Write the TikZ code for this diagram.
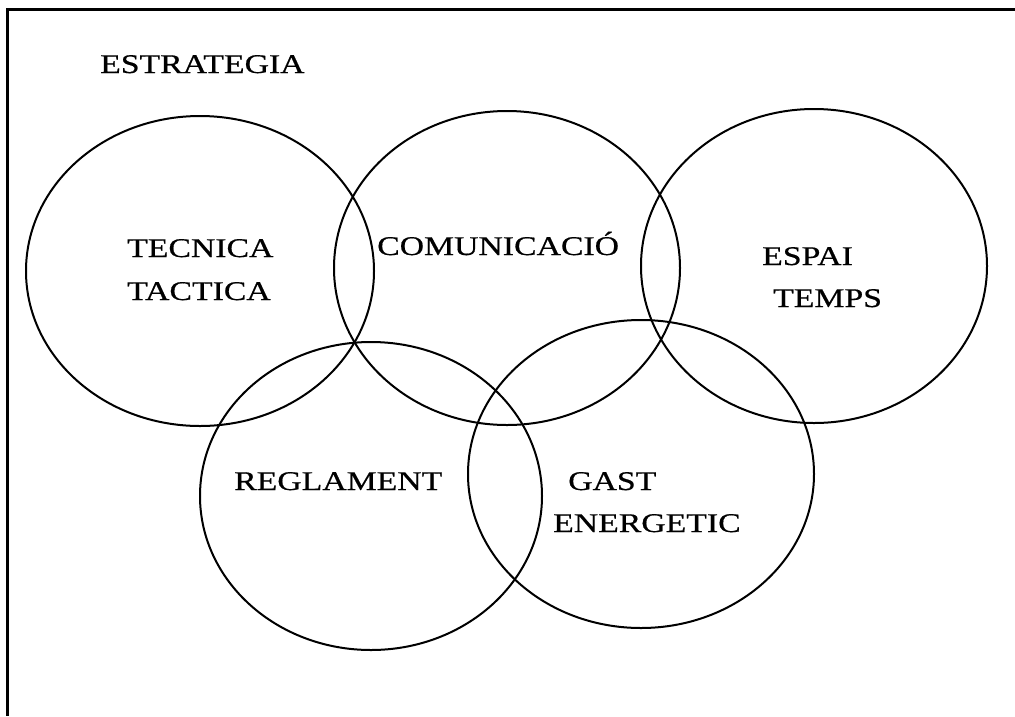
\documentclass[tikz,border=0pt]{standalone}
\usepackage{fontspec}
\setmainfont[FakeStretch=1.25,FakeBold=0.6]{Liberation Serif}
\usetikzlibrary{shapes.geometric}
\begin{document}
\begin{tikzpicture}[x=1pt,y=-1pt,
  ring/.style={draw=black,line width=2pt,ellipse,inner sep=0pt},
  frameline/.style={draw=black,line width=2.2pt},
  lbl/.style={anchor=base west,inner sep=0pt,font=\fontsize{27}{32}\selectfont}]
\useasboundingbox (0,0) rectangle (1015,716);
% frame (top and left edges only)
\coordinate (fTL) at (7.5,9.5);
\coordinate (fTR) at (1015,9.5);
\coordinate (fBL) at (7.5,716);
\draw[frameline] (fTR) -- (fTL) -- (fBL);
% rings
\node[ring,minimum width=348pt,minimum height=310pt] (e1) at (200,271) {};
\node[ring,minimum width=346pt,minimum height=314pt] (e2) at (507,268) {};
\node[ring,minimum width=346pt,minimum height=314pt] (e3) at (814,266) {};
\node[ring,minimum width=342pt,minimum height=308pt] (e4) at (371,496) {};
\node[ring,minimum width=346pt,minimum height=308pt] (e5) at (641,474) {};
% labels
\node[lbl] (t0) at (100,73) {ESTRATEGIA};
\node[lbl] (t1) at (127,257) {TECNICA};
\node[lbl] (t2) at (127,300) {TACTICA};
\node[lbl] (t3) at (377,255) {COMUNICACIÓ};
\node[lbl] (t4) at (762,265) {ESPAI};
\node[lbl] (t5) at (773,307) {TEMPS};
\node[lbl] (t6) at (234,490) {REGLAMENT};
\node[lbl] (t7) at (568,490) {GAST};
\node[lbl] (t8) at (553,532) {ENERGETIC};
\end{tikzpicture}
\end{document}
